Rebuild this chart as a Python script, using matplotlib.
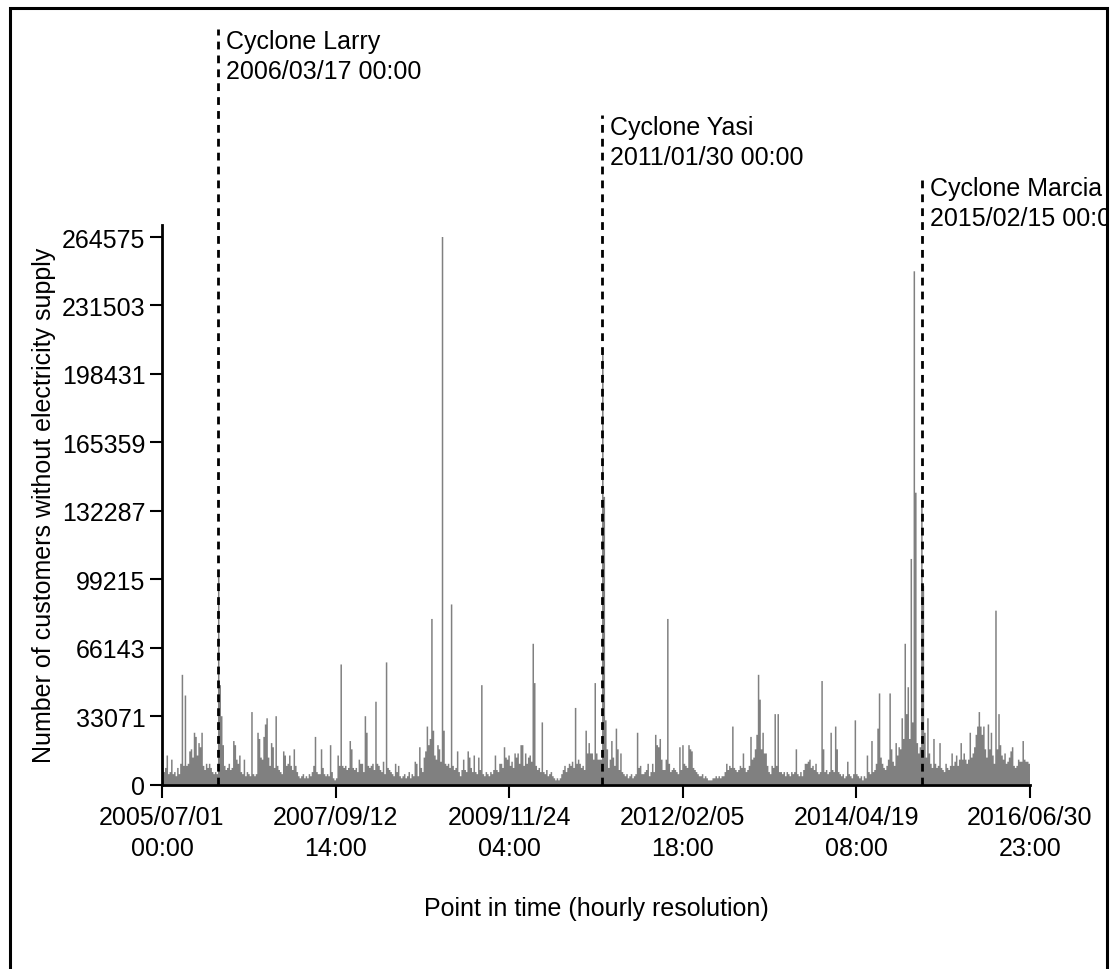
import numpy as np
import pandas as pd
import matplotlib
matplotlib.use("Agg")
import matplotlib.pyplot as plt
from matplotlib.patches import Rectangle
from matplotlib.transforms import Bbox, blended_transform_factory, offset_copy

plt.rcParams['font.family'] = ['Liberation Sans', 'DejaVu Sans']

# Weekly peak number of customers without supply (thousands), starting 2005/07/01 00:00
weekly_peak_k = [
    7, 6, 8, 14, 5, 6, 12, 5, 6, 4,
    8, 5, 10, 53, 9, 43, 9, 10, 16, 17,
    13, 25, 23, 14, 20, 18, 25, 9, 7, 10,
    8, 10, 8, 6, 5, 6, 5, 101, 48, 33,
    19, 9, 7, 8, 10, 7, 8, 21, 19, 12,
    10, 14, 6, 5, 12, 4, 6, 5, 4, 35,
    5, 4, 5, 25, 22, 13, 12, 23, 29, 32,
    13, 9, 20, 18, 8, 33, 9, 7, 6, 5,
    16, 14, 9, 10, 14, 9, 7, 17, 9, 6,
    4, 3, 4, 5, 3, 4, 3, 5, 4, 6,
    9, 23, 6, 5, 5, 17, 8, 5, 4, 5,
    4, 19, 6, 3, 2, 3, 14, 9, 58, 9,
    8, 9, 7, 8, 21, 17, 8, 7, 8, 6,
    12, 10, 10, 6, 33, 25, 9, 8, 9, 10,
    7, 40, 10, 9, 7, 6, 11, 5, 59, 8,
    7, 6, 5, 4, 10, 6, 9, 4, 3, 4,
    5, 3, 4, 6, 3, 5, 4, 11, 10, 4,
    18, 8, 6, 13, 16, 28, 19, 22, 80, 26,
    14, 12, 19, 17, 11, 264.575, 26, 10, 9, 10,
    8, 87, 9, 7, 8, 16, 6, 4, 7, 12,
    7, 6, 16, 13, 8, 6, 14, 6, 5, 13,
    7, 48, 5, 4, 6, 5, 4, 6, 5, 7,
    14, 7, 6, 10, 10, 8, 18, 13, 12, 14,
    9, 11, 8, 15, 13, 15, 10, 19, 19, 9,
    15, 10, 13, 14, 11, 68, 49, 9, 7, 8,
    6, 30, 6, 5, 7, 4, 5, 6, 4, 3,
    2, 3, 2, 3, 5, 7, 9, 6, 8, 10,
    9, 11, 8, 37, 10, 12, 10, 8, 9, 7,
    26, 15, 20, 15, 15, 12, 49, 15, 12, 12,
    12, 210, 139, 31, 17, 8, 12, 21, 13, 9,
    27, 17, 7, 15, 6, 5, 4, 5, 3, 4,
    5, 3, 4, 5, 25, 8, 9, 5, 5, 6,
    7, 10, 4, 6, 10, 6, 24, 19, 18, 22,
    12, 7, 7, 12, 80, 10, 6, 7, 8, 7,
    6, 5, 18, 7, 19, 10, 9, 8, 19, 17,
    16, 8, 7, 6, 5, 4, 4, 5, 3, 4,
    3, 2, 2, 2, 3, 3, 4, 3, 4, 3,
    4, 4, 6, 10, 7, 9, 8, 28, 8, 7,
    6, 7, 9, 8, 15, 8, 6, 7, 9, 23,
    12, 13, 17, 24, 53, 41, 17, 25, 15, 15,
    9, 6, 5, 9, 8, 34, 9, 34, 6, 6,
    5, 6, 4, 6, 5, 4, 6, 5, 6, 17,
    5, 4, 6, 4, 7, 10, 10, 11, 12, 8,
    9, 7, 10, 6, 5, 6, 50, 17, 6, 7,
    5, 6, 25, 7, 6, 28, 17, 6, 5, 4,
    5, 3, 4, 11, 5, 4, 3, 5, 31, 5,
    4, 3, 4, 2, 4, 3, 14, 6, 5, 21,
    6, 7, 10, 27, 44, 13, 10, 8, 7, 9,
    12, 44, 17, 11, 9, 20, 14, 18, 17, 32,
    22, 68, 34, 47, 22, 109, 30, 248, 141, 20,
    15, 18, 136, 96, 25, 13, 32, 15, 10, 8,
    22, 10, 8, 9, 20, 8, 7, 6, 10, 8,
    7, 9, 15, 9, 11, 14, 9, 12, 20, 12,
    15, 12, 10, 12, 25, 13, 15, 18, 24, 28,
    35, 28, 24, 28, 17, 13, 29, 17, 25, 14,
    10, 84, 17, 34, 19, 14, 12, 15, 10, 11,
    13, 16, 18, 9, 8, 9, 12, 11, 11, 21,
    12, 11, 11, 10,
]

series_start = "2005-07-01 00:00"
series_end = "2016-06-30 23:00"

cyclone_names = ["Cyclone Larry", "Cyclone Yasi", "Cyclone Marcia"]
cyclone_dates = ["2006-03-17 00:00", "2011-01-30 00:00", "2015-02-15 00:00"]

# ---------------------------------------------------------------------------
start = pd.Timestamp(series_start)
end = pd.Timestamp(series_end)
n_hours = int((end - start) / pd.Timedelta(hours=1))  # index of last hour

values = np.array(weekly_peak_k, dtype=float) * 1000.0
edges = np.arange(len(values) + 1) * 168.0
edges[-1] = min(edges[-1], n_hours + 1)
ymax = values.max()

W, H = 1118, 970
fig = plt.figure(figsize=(W / 100, H / 100), dpi=100)

ax_left, ax_right = 162, 1030
ax_bottom, ax_top = 785.5, 226
tick_top_px = 238
ax = fig.add_axes([ax_left / W, (H - ax_bottom) / H,
                   (ax_right - ax_left) / W, (ax_bottom - ax_top) / H])

ax.stairs(values, edges, fill=True, color="#808080", linewidth=0)

ax.set_xlim(0, n_hours)
ax.set_ylim(0, ymax * (ax_bottom - ax_top) / (ax_bottom - tick_top_px))

# axes styling
for s in ["top", "right"]:
    ax.spines[s].set_visible(False)
for s in ["left", "bottom"]:
    ax.spines[s].set_linewidth(2.0)
ax.tick_params(axis="both", which="major", direction="out", length=9,
               width=1.5, labelsize=18)
ax.tick_params(axis="y", pad=3)
ax.tick_params(axis="x", pad=6)

yt = np.linspace(0, ymax, 9)
ax.set_yticks(yt)
ax.set_yticklabels([str(int(np.floor(v))) for v in yt])

xt = np.linspace(0, n_hours, 6)
ax.set_xticks(xt)
xlabels = []
for t in xt:
    ts = start + pd.Timedelta(hours=int(np.floor(t)))
    xlabels.append(ts.strftime("%Y/%m/%d") + "\n" + ts.strftime("%H:%M"))
ax.set_xticklabels(xlabels, linespacing=1.35)

ax.set_ylabel("Number of customers without electricity supply", fontsize=18,
              labelpad=4)
ax.set_xlabel("Point in time (hourly resolution)", fontsize=18, labelpad=26)

# cyclone markers: dashed line up to a two-line label
label_tops = [1.350, 1.196, 1.087]
trans = blended_transform_factory(ax.transData, ax.transAxes)
text_trans = offset_copy(trans, fig=fig, x=8, y=0, units="dots")
border_clip = Bbox.from_extents(0, 0, 1107, H)
for name, d, top in zip(cyclone_names, cyclone_dates, label_tops):
    ts = pd.Timestamp(d)
    xh = (ts - start) / pd.Timedelta(hours=1)
    ax.plot([xh, xh], [0, top], transform=trans, color="black", lw=2.0,
            dashes=(2.8, 2.2), clip_on=False, zorder=5)
    txt = ax.text(xh, top, name + "\n" + ts.strftime("%Y/%m/%d %H:%M"),
                  transform=text_trans, ha="left", va="top", fontsize=18,
                  linespacing=1.3)
    txt.set_clip_box(border_clip)
    txt.set_clip_on(True)

# frame around the figure
fig.patches.append(Rectangle((9.5, -10), 1097, H - 8.5 + 10, transform=None,
                             fill=False, edgecolor="black", linewidth=2.2))

fig.savefig("out.png", dpi=100)
